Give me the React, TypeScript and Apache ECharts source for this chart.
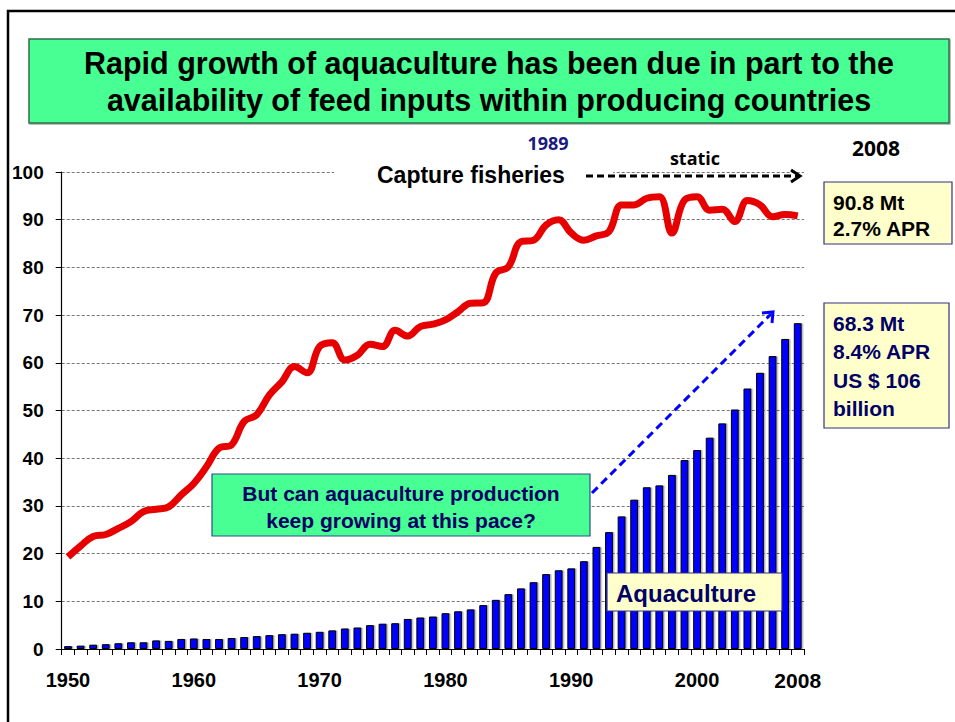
import React, { useEffect, useRef } from "react";
import * as echarts from "echarts";

const years: string[] = [];
for (let y = 1950; y <= 2008; y++) years.push(String(y));

const aquaculture = [
  0.6, 0.7, 0.9, 1.0, 1.2, 1.4, 1.4, 1.8, 1.7, 2.1,
  2.2, 2.1, 2.1, 2.3, 2.5, 2.7, 2.9, 3.1, 3.2, 3.4,
  3.6, 3.9, 4.3, 4.5, 5.0, 5.3, 5.4, 6.3, 6.6, 6.8,
  7.5, 7.9, 8.3, 9.2, 10.3, 11.5, 12.7, 14.0, 15.7, 16.5,
  16.9, 18.4, 21.4, 24.5, 27.8, 31.3, 33.9, 34.3, 36.5, 39.6,
  41.7, 44.3, 47.3, 50.2, 54.6, 57.9, 61.4, 65.0, 68.3,
];

const capture = [
  19.3, 21.6, 23.6, 24.0, 25.3, 26.7, 28.8, 29.3, 29.8, 32.3,
  34.7, 38.2, 42.1, 42.8, 47.7, 49.1, 53.2, 56.0, 59.2, 57.9,
  63.4, 64.2, 60.6, 61.6, 63.9, 63.4, 66.8, 65.6, 67.6, 68.1,
  69.0, 70.7, 72.5, 72.6, 78.8, 80.1, 85.4, 85.7, 88.9, 90.0,
  87.2, 85.7, 86.6, 87.5, 93.1, 93.1, 94.5, 94.8, 87.2, 94.1,
  94.8, 92.0, 92.2, 89.6, 94.0, 93.1, 90.6, 91.1, 90.8,
];

const yTicks = { min: 0, max: 100, interval: 10 };
const shownYears = ["1950", "1960", "1970", "1980", "1990", "2000", "2008"];

const titleLines = [
  "Rapid growth of aquaculture has been due in part to the",
  "availability of feed inputs within producing countries",
];
const captureBox = ["90.8 Mt", "2.7% APR"];
const aquaBox = ["68.3 Mt", "8.4% APR", "US $ 106", "billion"];
const questionLines = ["But can aquaculture production", "keep growing at this pace?"];

const FONT = "'Liberation Sans', Arial, sans-serif";
const NAVY = "#000066";

export default function App() {
  const ref = useRef<HTMLDivElement>(null);
  useEffect(() => {
    if (!ref.current) return;
    const chart = echarts.init(ref.current, null, { renderer: "svg" });

    const graphic: any[] = [
      // slide frame
      { type: "rect", z: 0, shape: { x: 8, y: 11, width: 980, height: 760 }, style: { fill: "none", stroke: "#000", lineWidth: 2.5 }, silent: true },
      // title box
      { type: "rect", z: 5, shape: { x: 29, y: 39, width: 920, height: 84 }, style: { fill: "#47FF92", stroke: "#2F6F4A", lineWidth: 1.5, shadowColor: "rgba(0,0,0,0.35)", shadowOffsetX: 1, shadowOffsetY: 1, shadowBlur: 1 } },
      { type: "text", z: 6, x: 489, y: 63, style: { text: titleLines[0], font: `bold 30.5px ${FONT}`, fill: "#000", align: "center", verticalAlign: "middle" } },
      { type: "text", z: 6, x: 489, y: 100, style: { text: titleLines[1], font: `bold 30.5px ${FONT}`, fill: "#000", align: "center", verticalAlign: "middle" } },
      // top annotations
      { type: "text", z: 6, x: 548, y: 143, style: { text: "1989", font: `bold 18px 'Open Sans', sans-serif`, fill: "#1A1A80", align: "center", verticalAlign: "middle" } },
      { type: "text", z: 6, x: 695, y: 158, style: { text: "static", font: `bold 18px 'Open Sans', sans-serif`, fill: "#000", align: "center", verticalAlign: "middle" } },
      { type: "text", z: 6, x: 876, y: 148, style: { text: "2008", font: `bold 21px 'Open Sans', sans-serif`, fill: "#000", align: "center", verticalAlign: "middle" } },
      // white cover behind "Capture fisheries"
      { type: "rect", z: 3, shape: { x: 334, y: 163, width: 279, height: 22 }, style: { fill: "#fff" } },
      { type: "text", z: 6, x: 377, y: 175, style: { text: "Capture fisheries", font: `bold 23px ${FONT}`, fill: "#000", align: "left", verticalAlign: "middle" } },
      { type: "line", z: 6, shape: { x1: 586, y1: 176, x2: 798, y2: 176 }, style: { stroke: "#000", lineWidth: 3, lineDash: [7, 4] } },
      { type: "polyline", z: 6, shape: { points: [[791, 170], [800, 176], [791, 182]] }, style: { stroke: "#000", lineWidth: 3, fill: "none" } },
      // capture box
      { type: "rect", z: 5, shape: { x: 824, y: 182, width: 128, height: 62 }, style: { fill: "#FFFFCC", stroke: "#333380", lineWidth: 1.2 } },
      { type: "text", z: 6, x: 833, y: 202, style: { text: captureBox[0], font: `bold 21px ${FONT}`, fill: "#000", verticalAlign: "middle" } },
      { type: "text", z: 6, x: 833, y: 228, style: { text: captureBox[1], font: `bold 21px ${FONT}`, fill: "#000", verticalAlign: "middle" } },
      // aquaculture value box
      { type: "rect", z: 5, shape: { x: 824, y: 303, width: 125, height: 125 }, style: { fill: "#FFFFCC", stroke: "#333380", lineWidth: 1.2 } },
      ...aquaBox.map((t, i) => ({ type: "text", z: 6, x: 833, y: 323 + i * 28.5, style: { text: t, font: `bold 21px ${FONT}`, fill: NAVY, verticalAlign: "middle" } })),
      // question box
      { type: "rect", z: 5, shape: { x: 212, y: 474, width: 378, height: 62 }, style: { fill: "#47FF92", stroke: "#2E4E8F", lineWidth: 1.2 } },
      { type: "text", z: 6, x: 401, y: 493, style: { text: questionLines[0], font: `bold 21px ${FONT}`, fill: NAVY, align: "center", verticalAlign: "middle" } },
      { type: "text", z: 6, x: 401, y: 520, style: { text: questionLines[1], font: `bold 21px ${FONT}`, fill: NAVY, align: "center", verticalAlign: "middle" } },
      // blue dashed arrow
      { type: "line", z: 6, shape: { x1: 592, y1: 493, x2: 771, y2: 314 }, style: { stroke: "#0000FF", lineWidth: 3, lineDash: [8, 5] } },
      { type: "polyline", z: 6, shape: { points: [[762, 313], [773, 312], [772, 323]] }, style: { stroke: "#0000FF", lineWidth: 3, fill: "none" } },
      // Aquaculture label box
      { type: "rect", z: 5, shape: { x: 607, y: 573, width: 175, height: 38 }, style: { fill: "#FFFFCC", stroke: "#333380", lineWidth: 1.2 } },
      { type: "text", z: 6, x: 616, y: 593, style: { text: "Aquaculture", font: `bold 24px ${FONT}`, fill: NAVY, verticalAlign: "middle" } },
    ];

    chart.setOption({
      animation: false,
      backgroundColor: "#fff",
      grid: { left: 61.7, right: 151, top: 172, bottom: 73 },
      xAxis: {
        type: "category",
        data: years,
        boundaryGap: true,
        axisLine: { lineStyle: { color: "#000", width: 1.2 } },
        axisTick: { show: true, interval: 0, length: 6, lineStyle: { color: "#000" } },
        axisLabel: {
          interval: (_i: number, v: string) => shownYears.includes(v),
          margin: 21,
          formatter: (v: string) => (v === "2008" ? `{b|${v}}` : v),
          rich: { b: { fontSize: 21, fontWeight: "bold", fontFamily: FONT, color: "#000", padding: [0, 0, 7, 0] } },
          fontSize: 20,
          fontWeight: "bold",
          fontFamily: FONT,
          color: "#000",
        },
        splitLine: { show: false },
      },
      yAxis: {
        type: "value",
        min: yTicks.min,
        max: yTicks.max,
        interval: yTicks.interval,
        axisLine: { show: true, lineStyle: { color: "#000", width: 1.2 } },
        axisTick: { show: true, length: 6, lineStyle: { color: "#000" } },
        axisLabel: { fontSize: 19, fontWeight: "bold", fontFamily: FONT, color: "#000", margin: 18 },
        splitLine: { show: true, lineStyle: { color: "#777", width: 1, type: [3, 2] } },
      },
      series: [
        {
          type: "bar",
          data: aquaculture,
          barWidth: "62%",
          itemStyle: { color: "#0000FF", borderColor: "#000", borderWidth: 1, shadowColor: "rgba(0,0,0,0.3)", shadowOffsetX: 1.5, shadowOffsetY: 0 },
          z: 2,
        },
        {
          type: "line",
          data: capture,
          smooth: 0.4,
          symbol: "none",
          lineStyle: { color: "#E60000", width: 7 },
          z: 3,
        },
      ],
      graphic,
    });
    return () => chart.dispose();
  }, []);
  return <div ref={ref} style={{ width: 955, height: 722, position: "absolute", left: 0, top: 0 }} />;
}
